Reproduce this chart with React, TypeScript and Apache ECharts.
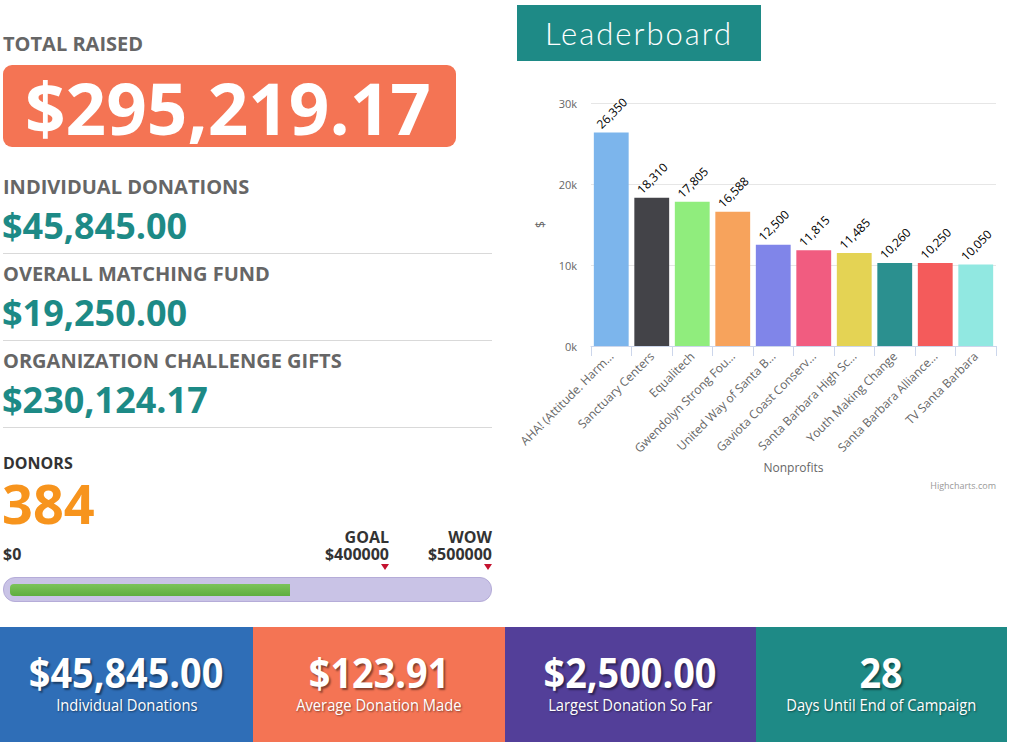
import React, { useEffect, useRef } from "react";
import * as echarts from "echarts";

const categories = [
  "AHA! (Attitude. Harm…",
  "Sanctuary Centers",
  "Equalitech",
  "Gwendolyn Strong Fou…",
  "United Way of Santa B…",
  "Gaviota Coast Conserv…",
  "Santa Barbara High Sc…",
  "Youth Making Change",
  "Santa Barbara Alliance…",
  "TV Santa Barbara",
];
const amounts = [26350, 18310, 17805, 16588, 12500, 11815, 11485, 10260, 10250, 10050];
const barColors = ["#7cb5ec", "#434348", "#90ed7d", "#f7a35c", "#8085e9", "#f15c80", "#e4d354", "#2b908f", "#f45b5b", "#91e8e1"];
const yTickValues = [0, 10000, 20000, 30000];

const totalRaised = "$295,219.17";
const totalRaisedValue = 295219.17;
const statLabels = ["INDIVIDUAL DONATIONS", "OVERALL MATCHING FUND", "ORGANIZATION CHALLENGE GIFTS"];
const statValues = ["$45,845.00", "$19,250.00", "$230,124.17"];
const donors = "384";
const goalValue = 400000;
const wowValue = 500000;

const tileValues = ["$45,845.00", "$123.91", "$2,500.00", "28"];
const tileLabels = ["Individual Donations", "Average Donation Made", "Largest Donation So Far", "Days Until End of Campaign"];
const tileColors = ["#2f6eb7", "#f47454", "#533f99", "#1e8a86"];

const FONT = "'Open Sans', sans-serif";

function Chart() {
  const ref = useRef<HTMLDivElement>(null);
  useEffect(() => {
    if (!ref.current) return;
    const chart = echarts.init(ref.current, undefined, { renderer: "svg" });
    chart.setOption({
      animation: false,
      textStyle: { fontFamily: FONT },
      grid: { left: 81, right: 15, top: 33, height: 243 },
      xAxis: {
        type: "category",
        data: categories,
        name: "Nonprofits",
        nameLocation: "middle",
        nameGap: 113,
        nameTextStyle: { color: "#666", fontSize: 12, fontFamily: FONT },
        axisLine: { lineStyle: { color: "#ccd6eb" } },
        axisTick: { show: true, length: 10, lineStyle: { color: "#ccd6eb" } },
        axisLabel: { rotate: 45, color: "#666", fontSize: 12, margin: 8, fontFamily: FONT, interval: 0 },
      },
      yAxis: {
        type: "value",
        min: yTickValues[0],
        max: yTickValues[yTickValues.length - 1],
        interval: 10000,
        name: "$",
        nameLocation: "middle",
        nameGap: 45,
        nameTextStyle: { color: "#666", fontSize: 12, fontFamily: FONT },
        axisLine: { show: false },
        axisTick: { show: false },
        splitLine: { lineStyle: { color: "#e6e6e6" } },
        axisLabel: {
          color: "#666",
          fontSize: 11,
          margin: 14,
          fontFamily: FONT,
          formatter: (v: number) => v / 1000 + "k",
        },
      },
      series: [
        {
          type: "bar",
          data: amounts.map((v, i) => ({ value: v, itemStyle: { color: barColors[i] } })),
          barCategoryGap: "14%",
          label: {
            show: true,
            position: [9, -2],
            rotate: 45,
            align: "left",
            verticalAlign: "bottom",
            color: "#000",
            fontSize: 12,
            fontFamily: FONT,
            formatter: (p: any) => p.value.toLocaleString("en-US"),
          },
        },
      ],
      graphic: [
        {
          type: "text",
          right: 15,
          top: 411,
          style: { text: "Highcharts.com", fill: "#999", fontSize: 9, fontFamily: FONT },
        },
      ],
    });
    return () => chart.dispose();
  }, []);
  return <div ref={ref} style={{ position: "absolute", left: 510, top: 70, width: 501, height: 430 }} />;
}

const abs = (left: number, top: number, extra: React.CSSProperties = {}): React.CSSProperties => ({
  position: "absolute",
  left,
  top,
  lineHeight: 1,
  whiteSpace: "nowrap",
  fontFamily: FONT,
  ...extra,
});

export default function App() {
  const trackLeft = 10;
  const trackWidth = 475;
  const fillWidth = (trackWidth * totalRaisedValue) / wowValue;
  return (
    <div style={{ position: "absolute", left: 0, top: 0, width: 1011, height: 746, background: "#fff", overflow: "hidden", fontFamily: FONT }}>
      <div style={abs(3, 34, { fontSize: 20, fontWeight: 700, color: "#666" })}>TOTAL RAISED</div>
      <div style={{ position: "absolute", left: 3, top: 65, width: 453, height: 82, background: "#f47454", borderRadius: 9 }} />
      <div style={abs(25, 72, { fontSize: 71, fontWeight: 700, color: "#fff" })}>{totalRaised}</div>

      {statLabels.map((lab, i) => (
        <React.Fragment key={lab}>
          <div style={abs(3, 177 + i * 87, { fontSize: 20, fontWeight: 700, color: "#666" })}>{lab}</div>
          <div style={abs(2, 208 + i * 87, { fontSize: 36, fontWeight: 700, color: "#1d8a86" })}>{statValues[i]}</div>
          <div style={{ position: "absolute", left: 3, top: 253 + i * 87, width: 489, height: 1, background: "#d9d9d9" }} />
        </React.Fragment>
      ))}

      <div style={abs(3, 455, { fontSize: 16, fontWeight: 700, color: "#333" })}>DONORS</div>
      <div style={abs(2, 476, { fontSize: 54, fontWeight: 700, color: "#f7941d" })}>{donors}</div>

      <div style={abs(3, 546, { fontSize: 16, fontWeight: 700, color: "#333" })}>$0</div>
      <div style={abs(289, 529, { width: 100, textAlign: "right", fontSize: 16, fontWeight: 700, color: "#333" })}>GOAL</div>
      <div style={abs(289, 546, { width: 100, textAlign: "right", fontSize: 16, fontWeight: 700, color: "#333" })}>{"$" + goalValue}</div>
      <div style={abs(392, 529, { width: 100, textAlign: "right", fontSize: 16, fontWeight: 700, color: "#333" })}>WOW</div>
      <div style={abs(392, 546, { width: 100, textAlign: "right", fontSize: 16, fontWeight: 700, color: "#333" })}>{"$" + wowValue}</div>
      {[385, 488].map((cx) => (
        <div key={cx} style={{ position: "absolute", left: cx - 4, top: 564, width: 0, height: 0, borderLeft: "4px solid transparent", borderRight: "4px solid transparent", borderTop: "6px solid #c4122f" }} />
      ))}

      <div style={{ position: "absolute", left: 3, top: 577, width: 487, height: 23, background: "#c9c3e6", border: "1px solid #b5acd8", borderRadius: 12 }} />
      <div style={{ position: "absolute", left: trackLeft, top: 584, width: fillWidth, height: 12, background: "linear-gradient(#7cc35a, #5fae3e)", borderRadius: "4px 0 0 4px" }} />

      <div style={{ position: "absolute", left: 517, top: 5, width: 244, height: 56, background: "#1e8a86", color: "#fff", display: "flex", alignItems: "center", justifyContent: "center", fontFamily: "Lato, sans-serif", fontWeight: 300, fontSize: 31, letterSpacing: 2 }}>
        Leaderboard
      </div>

      <Chart />

      {tileValues.map((v, i) => {
        const left = [0, 253, 505, 756][i];
        const width = [253, 252, 251, 251][i];
        return (
          <div key={i} style={{ position: "absolute", left, top: 627, width, height: 115, background: tileColors[i], color: "#fff", fontFamily: FONT }}>
            <div style={{ position: "absolute", left: 0, right: 0, top: 24, textAlign: "center", lineHeight: 1 }}>
              <span style={{ display: "inline-block", transform: "scaleX(0.9)", fontSize: 42, fontWeight: 700, textShadow: "2px 2px 2px rgba(0,0,0,0.45)" }}>{v}</span>
            </div>
            <div style={{ position: "absolute", left: 0, right: 0, top: 70, textAlign: "center", lineHeight: 1 }}>
              <span style={{ display: "inline-block", transform: "scaleX(0.92)", fontSize: 16, textShadow: "1px 1px 2px rgba(0,0,0,0.45)" }}>{tileLabels[i]}</span>
            </div>
          </div>
        );
      })}
    </div>
  );
}
